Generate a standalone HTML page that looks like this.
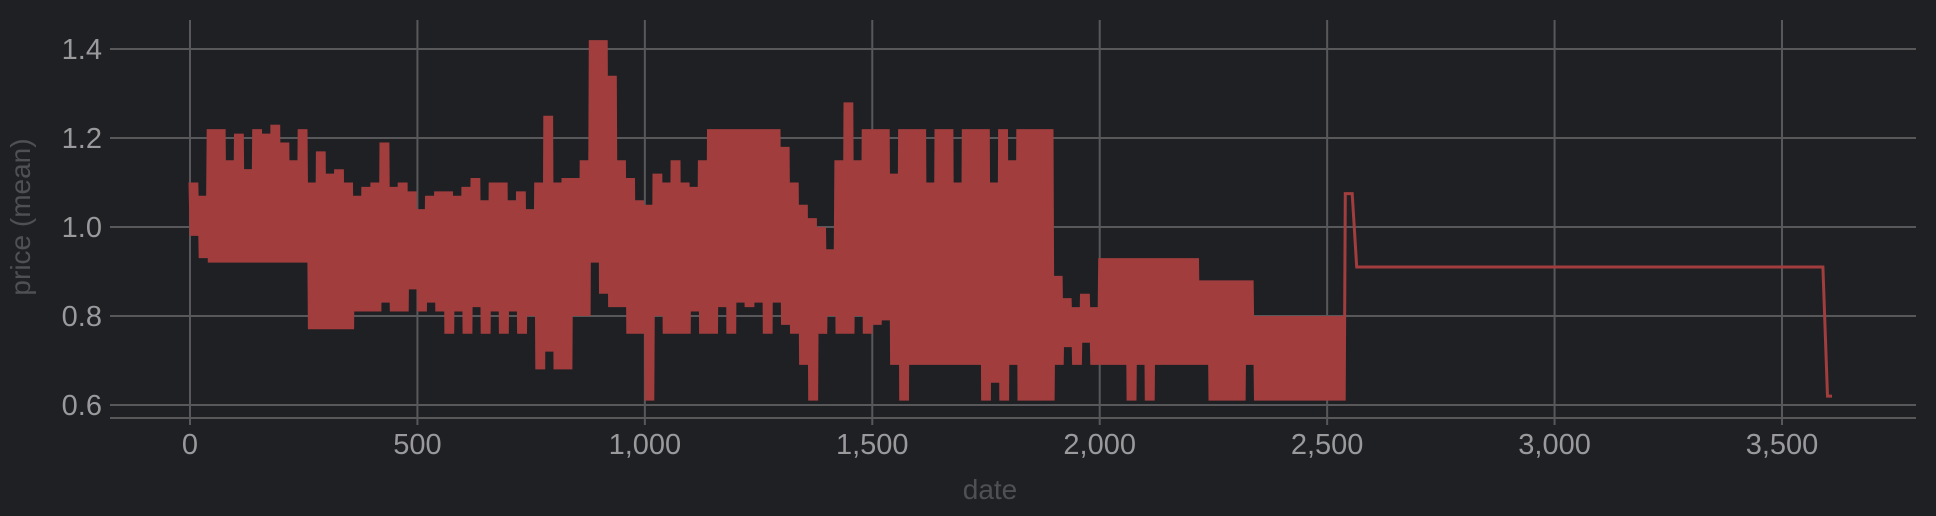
<!DOCTYPE html>
<html><head><meta charset="utf-8">
<style>
html,body{margin:0;padding:0;background:#1f2024;}
svg{display:block;font-family:"Liberation Sans","DejaVu Sans",sans-serif;}
</style></head>
<body>
<svg id="chart" width="1936" height="516" xmlns="http://www.w3.org/2000/svg">
<rect width="1936" height="516" fill="#1f2024"/>
<g id="grid"></g>
<g id="series"></g>
<g id="axes"></g>
<text x="990" y="499" text-anchor="middle" font-size="28" fill="#4f5054">date</text>
<text transform="translate(30,217) rotate(-90)" text-anchor="middle" font-size="28" fill="#4f5054">price (mean)</text>
</svg>
<script>
const xTicks=[0,500,1000,1500,2000,2500,3000,3500];
const xTickLabels=["0","500","1,000","1,500","2,000","2,500","3,000","3,500"];
const yTicks=[0.6,0.8,1.0,1.2,1.4];
const yTickLabels=["0.6","0.8","1.0","1.2","1.4"];
const binStart=[0,20,40,60,80,100,120,140,160,180,200,220,240,260,280,300,320,340,360,380,400,420,440,460,480,500,520,540,560,580,600,620,640,660,680,700,720,740,760,780,800,820,840,860,880,900,920,940,960,980,1000,1020,1040,1060,1080,1100,1120,1140,1160,1180,1200,1220,1240,1260,1280,1300,1320,1340,1360,1380,1400,1420,1440,1460,1480,1500,1520,1540,1560,1580,1600,1620,1640,1660,1680,1700,1720,1740,1760,1780,1800,1820,1840,1860,1880,1900,1920,1940,1960,1980,2000,2020,2040,2060,2080,2100,2120,2140,2160,2180,2200,2220,2240,2260,2280,2300,2320,2340,2360,2380,2400,2420,2440,2460,2480,2500,2520];
const binHigh=[1.10,1.07,1.22,1.22,1.15,1.21,1.13,1.22,1.21,1.23,1.19,1.15,1.22,1.10,1.17,1.12,1.13,1.10,1.07,1.09,1.10,1.19,1.09,1.10,1.08,1.04,1.07,1.08,1.08,1.07,1.09,1.11,1.06,1.10,1.10,1.06,1.08,1.04,1.10,1.25,1.10,1.11,1.11,1.15,1.42,1.42,1.34,1.15,1.11,1.06,1.05,1.12,1.10,1.15,1.10,1.09,1.15,1.22,1.22,1.22,1.22,1.22,1.22,1.22,1.22,1.18,1.10,1.05,1.02,1.00,0.95,1.15,1.28,1.15,1.22,1.22,1.22,1.12,1.22,1.22,1.22,1.10,1.22,1.22,1.10,1.22,1.22,1.22,1.10,1.22,1.15,1.22,1.22,1.22,1.22,0.89,0.84,0.82,0.85,0.82,0.93,0.93,0.93,0.93,0.93,0.93,0.93,0.93,0.93,0.93,0.93,0.88,0.88,0.88,0.88,0.88,0.88,0.80,0.80,0.80,0.80,0.80,0.80,0.80,0.80,0.80,0.80,1.07];
const binLow=[0.98,0.93,0.92,0.92,0.92,0.92,0.92,0.92,0.92,0.92,0.92,0.92,0.92,0.77,0.77,0.77,0.77,0.77,0.81,0.81,0.81,0.83,0.81,0.81,0.86,0.81,0.83,0.81,0.76,0.81,0.76,0.82,0.76,0.81,0.76,0.81,0.76,0.80,0.68,0.72,0.68,0.68,0.80,0.80,0.92,0.85,0.82,0.82,0.76,0.76,0.61,0.80,0.76,0.76,0.76,0.81,0.76,0.76,0.82,0.76,0.83,0.82,0.83,0.76,0.83,0.78,0.76,0.69,0.61,0.76,0.80,0.76,0.76,0.80,0.76,0.78,0.79,0.69,0.61,0.69,0.69,0.69,0.69,0.69,0.69,0.69,0.69,0.61,0.65,0.61,0.69,0.61,0.61,0.61,0.61,0.69,0.73,0.69,0.74,0.69,0.69,0.69,0.69,0.61,0.69,0.61,0.69,0.69,0.69,0.69,0.69,0.69,0.61,0.61,0.61,0.61,0.69,0.61,0.61,0.61,0.61,0.61,0.61,0.61,0.61,0.61,0.61,0.61];
const tailDates=[2540,2555,2565,3590,3600,3610];
const tailPrices=[1.075,1.075,0.91,0.91,0.62,0.62];

const NS="http://www.w3.org/2000/svg";
const X0=110,X1=1916,Y0=20,YB=418;
function xs(v){return 190+(v/3500)*(1782-190);}
function ys(v){return 405+(v-0.6)*(49-405)/0.8;}
function mk(tag,attrs,parent){const e=document.createElementNS(NS,tag);for(const k in attrs)e.setAttribute(k,attrs[k]);parent.appendChild(e);return e;}
const grid=document.getElementById('grid'),axes=document.getElementById('axes'),series=document.getElementById('series');
yTicks.forEach((t,i)=>{
  const l=mk('line',{x1:X0,x2:X1,y1:ys(t),y2:ys(t),stroke:'#58585a','stroke-width':2},grid);
  
  
  const tx=mk('text',{x:102,y:ys(t)+10,'text-anchor':'end','font-size':29,fill:'#9a9a9c'},axes);
  tx.textContent=yTickLabels[i];
  
  
});
xTicks.forEach((t,i)=>{
  const l=mk('line',{x1:xs(t),x2:xs(t),y1:Y0,y2:425,stroke:'#58585a','stroke-width':2},grid);
  
  
  const tx=mk('text',{x:xs(t),y:454,'text-anchor':'middle','font-size':29,fill:'#9a9a9c'},axes);
  tx.textContent=xTickLabels[i];
  
  
});
const base=mk('line',{x1:X0,x2:X1,y1:YB,y2:YB,stroke:'#58585a','stroke-width':2},axes);


let pts=[];
binStart.forEach((d,i)=>{
  for(let k=0;k<8;k++) pts.push([d+k*2.5,k%2?binLow[i]:binHigh[i]]);
});
tailDates.forEach((d,i)=>pts.push([d,tailPrices[i]]));
const p=mk('polyline',{points:pts.map(q=>xs(q[0]).toFixed(1)+','+ys(q[1]).toFixed(1)).join(' '),fill:'none',stroke:'#a13d3d','stroke-width':3,'stroke-linejoin':'miter'},series);


</script>
</body></html>
